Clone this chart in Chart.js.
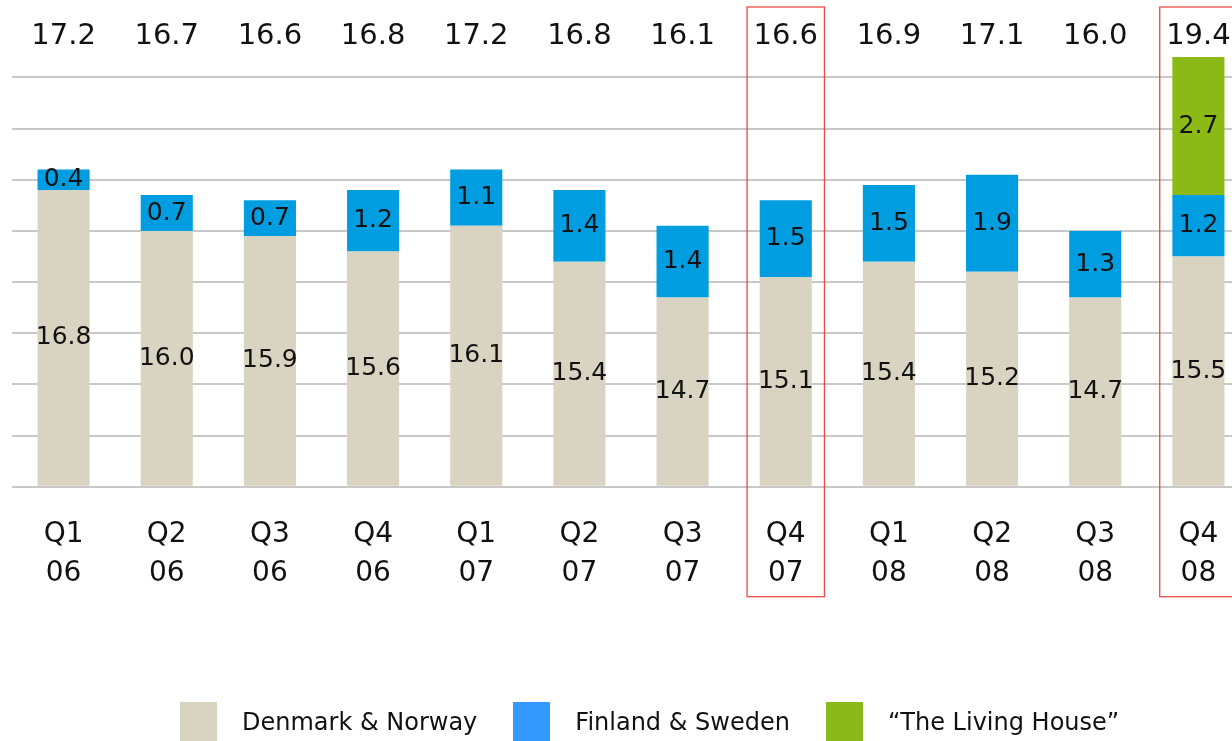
<!DOCTYPE html>
<html>
<head>
<meta charset="utf-8">
<script src="https://cdn.jsdelivr.net/npm/chart.js@4.4.1/dist/chart.umd.min.js"></script>
<style>
  html, body { margin: 0; padding: 0; background: #fff; overflow: hidden; }
  #wrap { position: relative; width: 1250px; height: 741px; }
  #legend {
    position: absolute; left: 180px; top: 702px;
    display: flex; align-items: center;
    font: 24px "DejaVu Sans", sans-serif; color: #111;
  }
  .item { display: flex; align-items: center; margin-right: 36px; white-space: nowrap; }
  .box { width: 37px; height: 40px; margin-right: 25px; }
</style>
</head>
<body>
<div id="wrap">
  <canvas id="chart"></canvas>
  <div id="legend"></div>
</div>
<script>
// quarters on the x axis (two lines each)
const quarters = [['Q1','06'],['Q2','06'],['Q3','06'],['Q4','06'],
                  ['Q1','07'],['Q2','07'],['Q3','07'],['Q4','07'],
                  ['Q1','08'],['Q2','08'],['Q3','08'],['Q4','08']];

const denmarkNorway  = [16.8, 16.0, 15.9, 15.6, 16.1, 15.4, 14.7, 15.1, 15.4, 15.2, 14.7, 15.5];
const finlandSweden  = [0.4, 0.7, 0.7, 1.2, 1.1, 1.4, 1.4, 1.5, 1.5, 1.9, 1.3, 1.2];
const livingHouse    = [null, null, null, null, null, null, null, null, null, null, null, 2.7];

const seriesNames = ['Denmark & Norway', 'Finland & Sweden', '\u201CThe Living House\u201D'];
const highlighted = [7, 11];   // Q4 07, Q4 08

const Y_MIN = 11;
const Y_MAX = 19.4;

const barColors    = ['#D9D4C2', '#009EE0', '#8BBA17'];
const legendColors = ['#D8D3C1', '#3399FF', '#8AB919'];

// legend
const legendEl = document.getElementById('legend');
seriesNames.forEach((name, i) => {
  const item = document.createElement('div');
  item.className = 'item';
  item.innerHTML = '<span class="box" style="background:' + legendColors[i] + '"></span><span></span>';
  item.lastChild.textContent = name;
  legendEl.appendChild(item);
});

// value labels, totals on top and the red boxes
const barLabels = {
  id: 'barLabels',
  afterDatasetsDraw(chart) {
    const ctx = chart.ctx;
    const xs = chart.scales.x;
    const area = chart.chartArea;
    ctx.save();
    ctx.fillStyle = '#111';
    ctx.textAlign = 'center';
    ctx.textBaseline = 'middle';

    ctx.font = '25px "DejaVu Sans"';
    chart.data.datasets.forEach((ds, i) => {
      chart.getDatasetMeta(i).data.forEach((bar, j) => {
        if (ds.data[j] == null) return;
        ctx.fillText(ds.data[j].toFixed(1), bar.x, (bar.y + bar.base) / 2);
      });
    });

    ctx.font = '29px "DejaVu Sans"';
    quarters.forEach((q, j) => {
      const total = denmarkNorway[j] + finlandSweden[j] + (livingHouse[j] || 0);
      ctx.fillText(total.toFixed(1), xs.getPixelForValue(j), area.top - 21);
    });

    const step = xs.getPixelForValue(1) - xs.getPixelForValue(0);
    ctx.strokeStyle = 'rgba(240, 40, 40, 0.85)';
    ctx.lineWidth = 1.3;
    highlighted.forEach(j => {
      const cx = xs.getPixelForValue(j);
      const top = area.top - 50;
      ctx.strokeRect(cx - step * 0.375, top, step * 0.75, area.bottom + 110 - top);
    });
    ctx.restore();
  }
};

new Chart(document.getElementById('chart').getContext('2d'), {
  type: 'bar',
  data: {
    labels: quarters,
    datasets: [
      { label: seriesNames[0], data: denmarkNorway, backgroundColor: barColors[0], base: Y_MIN },
      { label: seriesNames[1], data: finlandSweden, backgroundColor: barColors[1] },
      { label: seriesNames[2], data: livingHouse,   backgroundColor: barColors[2] }
    ]
  },
  options: {
    responsive: true,
    maintainAspectRatio: false,
    animation: false,
    layout: { padding: { top: 57, left: 12, right: 0, bottom: 119 } },
    datasets: { bar: { categoryPercentage: 1, barPercentage: 0.505 } },
    plugins: { legend: { display: false }, tooltip: { enabled: false } },
    scales: {
      x: {
        stacked: true,
        grid: { display: false, drawTicks: false },
        border: { display: false },
        ticks: {
          color: '#111',
          padding: 29,
          maxRotation: 0,
          autoSkip: false,
          font: { family: 'DejaVu Sans', size: 28, lineHeight: 1.38 }
        }
      },
      y: {
        stacked: true,
        min: Y_MIN,
        max: Y_MAX,
        ticks: { display: false, stepSize: 1 },
        afterBuildTicks: scale => { scale.ticks = scale.ticks.filter(t => Number.isInteger(t.value)); },
        grid: { color: '#C8C8C8', lineWidth: 2, drawTicks: false },
        border: { display: false }
      }
    }
  },
  plugins: [barLabels]
});
</script>
</body>
</html>
